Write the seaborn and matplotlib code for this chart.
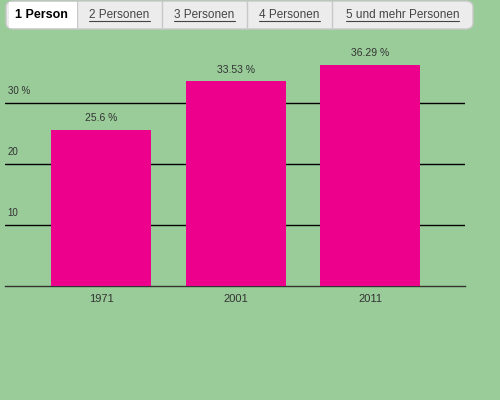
import pandas as pd
import seaborn as sns
import matplotlib.pyplot as plt
from matplotlib.patches import FancyBboxPatch, Rectangle

years = ['1971', '2001', '2011']
values = [25.6, 33.53, 36.29]
labels = ['25.6 %', '33.53 %', '36.29 %']
tabs = ['1 Person', '2 Personen', '3 Personen', '4 Personen', '5 und mehr Personen']
tab_edges = [6, 77, 162, 247, 332, 473]
yticks = [10, 20, 30]
ytick_labels = ['10', '20', '30 %']

bg = '#99cc99'
df = pd.DataFrame({'year': years, 'value': values})

sns.set_theme(style='white')
plt.rcParams['font.family'] = ['Liberation Sans', 'DejaVu Sans']

fig = plt.figure(figsize=(5, 4), dpi=100, facecolor=bg)
ax = fig.add_axes([0.01, 0.285, 0.92, 0.615])
ax.set_facecolor(bg)

sns.barplot(data=df, x='year', y='value', color='#ec008c', width=0.743,
            saturation=1, linewidth=0, ax=ax, zorder=3)

ax.set_xlim(-0.714, 2.706)
ax.set_ylim(0, 40.33)
for s in ['top', 'right', 'left']:
    ax.spines[s].set_visible(False)
ax.spines['bottom'].set_color('#333333')
ax.spines['bottom'].set_linewidth(1)
ax.set_xlabel('')
ax.set_ylabel('')
ax.set_yticks([])
ax.tick_params(axis='x', length=0, labelsize=8, labelcolor='#333333', pad=6)

for t, lab in zip(yticks, ytick_labels):
    ax.axhline(t, color='black', lw=1, zorder=2)
    ax.annotate(lab, xy=(0, t), xycoords=('axes fraction', 'data'),
                xytext=(2, 5), textcoords='offset points',
                fontsize=7, color='#333333', ha='left', va='bottom')

for i, (v, lab) in enumerate(zip(values, labels)):
    ax.annotate(lab, xy=(i, v), xytext=(0, 5), textcoords='offset points',
                ha='center', va='bottom', fontsize=7.5, color='#333333')

# tab bar on top
W, H = 500, 400
box = FancyBboxPatch((tab_edges[0] / W, 1 - 29 / H), (tab_edges[-1] - tab_edges[0]) / W, 28 / H,
                     boxstyle='round,pad=0,rounding_size=0.015', transform=fig.transFigure,
                     facecolor='#ececec', edgecolor='#c8c8c8', lw=1, zorder=1)
fig.patches.append(box)
fig.patches.append(Rectangle((tab_edges[0] / W + 0.006, 1 - 28 / H), (tab_edges[1] - tab_edges[0]) / W - 0.006,
                             26 / H, transform=fig.transFigure, facecolor='white',
                             edgecolor='none', zorder=2))
for x in tab_edges[1:-1]:
    fig.add_artist(plt.Line2D([x / W, x / W], [1 - 29 / H, 1 - 1 / H],
                              transform=fig.transFigure, color='#c8c8c8', lw=1))
for i, name in enumerate(tabs):
    cx = (tab_edges[i] + tab_edges[i + 1]) / 2 / W
    if i == 0:
        fig.text(cx, 1 - 15 / H, name, ha='center', va='center', fontsize=9,
                 fontweight='bold', color='black')
    else:
        t = fig.text(cx, 1 - 15 / H, name, ha='center', va='center', fontsize=8.5,
                     color='#444444')
        fig.canvas.draw()
        bb = t.get_window_extent()
        fig.add_artist(plt.Line2D([bb.x0 / W, bb.x1 / W], [1 - 21 / H, 1 - 21 / H],
                                  transform=fig.transFigure, color='#444444', lw=0.8))

fig.savefig('out.png', dpi=100, facecolor=bg)
